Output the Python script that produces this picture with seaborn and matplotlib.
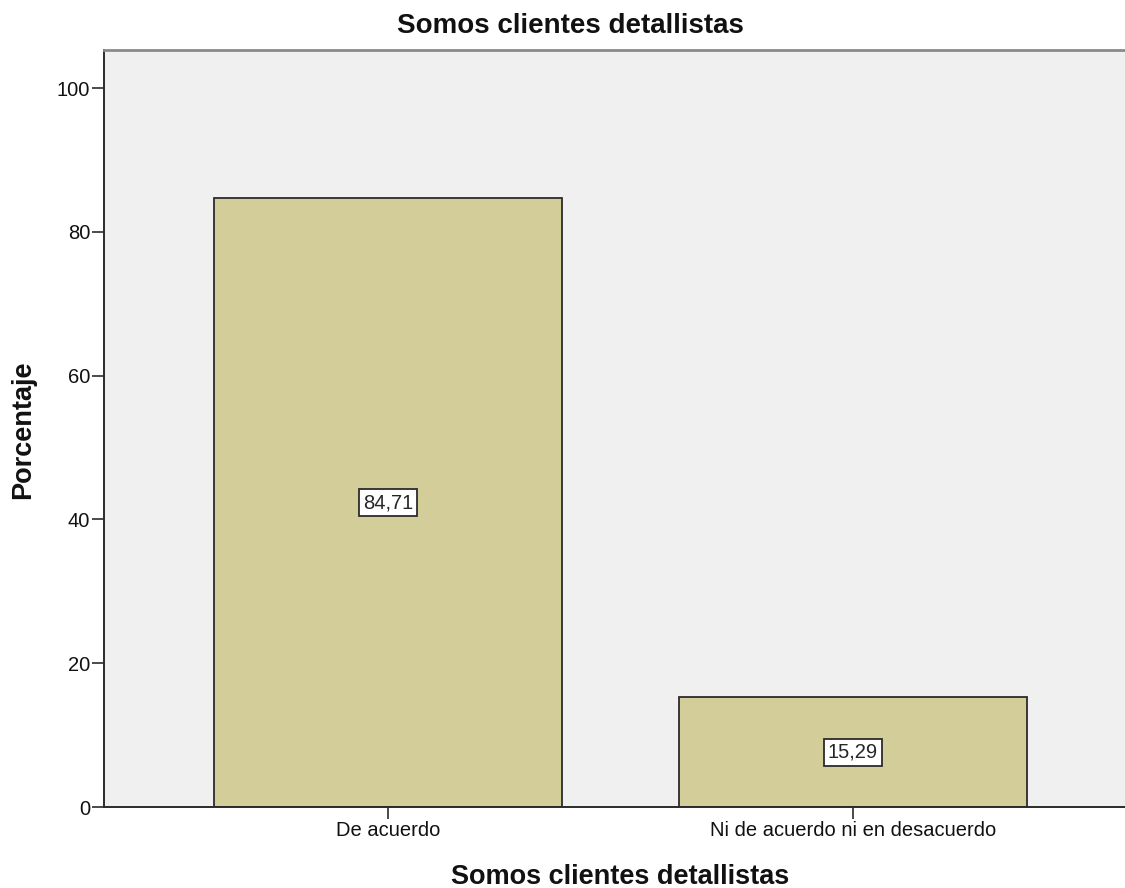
import matplotlib
matplotlib.use('Agg')
import matplotlib.pyplot as plt
import seaborn as sns
import pandas as pd

categorias = ['De acuerdo', 'Ni de acuerdo ni en desacuerdo']
porcentajes = [84.71, 15.29]
etiquetas = ['84,71', '15,29']
yticks = [0, 20, 40, 60, 80, 100]

sns.set_style('white')
plt.rcParams['font.family'] = ['Liberation Sans', 'DejaVu Sans']

df = pd.DataFrame({'cat': categorias, 'pct': porcentajes})

fig = plt.figure(figsize=(11.25, 8.88), dpi=100)
ax = fig.add_axes([104/1125, 81/888, 1 - 104/1125, (807-50)/888])
ax.set_facecolor('#F0F0F0')

sns.barplot(data=df, x='cat', y='pct', color='#D3CE99', saturation=1,
            width=0.75, edgecolor='#2b2b2b', linewidth=1.3, ax=ax)

# etiquetas de valor en el centro de cada barra
for i, (v, t) in enumerate(zip(porcentajes, etiquetas)):
    ax.text(i, v / 2, t, ha='center', va='center', fontsize=14.5,
            bbox=dict(boxstyle='square,pad=0.2', fc='white', ec='#2b2b2b', lw=1.3))

ax.set_xlim(-0.611, 1.585)
ax.set_ylim(0, 105.3)
ax.set_yticks(yticks)
ax.tick_params(axis='both', direction='out', length=8.5, width=1.2, color='#2b2b2b',
               labelsize=14.5, pad=1.5, left=True, bottom=True, labelcolor='#111111')

for s in ['left', 'bottom']:
    ax.spines[s].set_color('#2b2b2b')
    ax.spines[s].set_linewidth(1.4)
ax.spines['top'].set_color('#8a8a8a')
ax.spines['top'].set_linewidth(2)
ax.spines['right'].set_visible(False)

ax.set_xlabel('')
ax.set_ylabel('')
fig.text(570/1125, 1 - 33/888, 'Somos clientes detallistas', ha='center', va='baseline',
         fontsize=20, fontweight='bold', color='#111111')
fig.text(620/1125, 4/888, 'Somos clientes detallistas', ha='center', va='baseline',
         fontsize=19.5, fontweight='bold', color='#111111')
fig.text(23/1125, 1 - 430/888, 'Porcentaje', ha='center', va='center', rotation=90,
         fontsize=19.5, fontweight='bold', color='#111111')

fig.savefig('out.png', dpi=100)
